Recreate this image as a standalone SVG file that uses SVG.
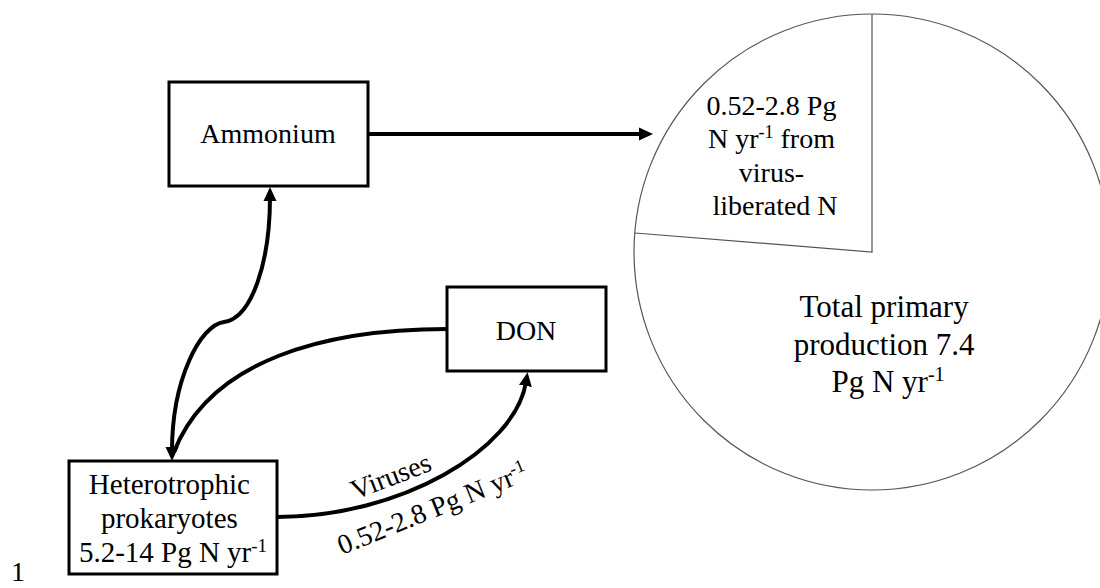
<svg xmlns="http://www.w3.org/2000/svg" width="1100" height="588" viewBox="0 0 1100 588">
  <style>
    .box { fill: #fff; stroke: #000; stroke-width: 3; }
    .conn { fill: none; stroke: #000; stroke-width: 4; }
    .pie { fill: #fff; stroke: #555; stroke-width: 1.2; }
    .t { font-family: "Liberation Serif", "Times New Roman", serif; fill: #000; }
  </style>
  <defs>
    <marker id="ah" markerUnits="userSpaceOnUse" markerWidth="16" markerHeight="14" refX="4" refY="6.5" orient="auto-start-reverse" viewBox="0 0 16 13">
      <path d="M0,0 L14,6.5 L0,13 z" fill="#000"/>
    </marker>
  </defs>
  <rect width="1100" height="588" fill="#fff"/>

  <g id="pie">
    <circle class="pie" cx="872" cy="252" r="238"/>
    <path class="pie" d="M872 14 L872 252 L635 233" fill="none"/>
    <text class="t" font-size="28" text-anchor="middle">
      <tspan x="775" y="115">0.52-2.8 Pg</tspan>
      <tspan x="775" y="148">N yr<tspan font-size="18" dy="-10">-1</tspan><tspan dy="10"> from</tspan></tspan>
      <tspan x="775" y="182">virus-</tspan>
      <tspan x="775" y="215">liberated N</tspan>
    </text>
    <text class="t" font-size="31" text-anchor="middle">
      <tspan x="888" y="317">Total primary</tspan>
      <tspan x="888" y="355">production 7.4</tspan>
      <tspan x="888" y="392">Pg N yr<tspan font-size="20" dy="-11">-1</tspan></tspan>
    </text>
  </g>

  <g id="ammonium">
    <rect class="box" x="169" y="82" width="199" height="104"/>
    <text class="t" font-size="28" x="268" y="143" text-anchor="middle">Ammonium</text>
  </g>

  <g id="don">
    <rect class="box" x="447" y="287" width="159" height="84"/>
    <text class="t" font-size="28" x="526" y="340" text-anchor="middle">DON</text>
  </g>

  <g id="heterotrophic">
    <rect class="box" x="69" y="461" width="208" height="113"/>
    <text class="t" font-size="29" text-anchor="middle">
      <tspan x="173" y="494">Heterotrophic</tspan>
      <tspan x="173" y="528">prokaryotes</tspan>
      <tspan x="173" y="562">5.2-14 Pg N yr<tspan font-size="19" dy="-10">-1</tspan></tspan>
    </text>
  </g>

  <g id="connectors">
    <path class="conn" d="M368 134 L643 134" marker-end="url(#ah)"/>
    <path class="conn" d="M270 197 C270 262, 252 318, 224 322 C200 325, 172 380, 172 451" marker-start="url(#ah)" marker-end="url(#ah)"/>
    <path class="conn" d="M447 329 C325 329, 210 360, 174 452"/>
    <path class="conn" d="M277 517 C400 517, 515 450, 526 382" marker-end="url(#ah)"/>
    <text class="t" font-size="28" transform="translate(355 500) rotate(-21)">Viruses</text>
    <text class="t" font-size="28" transform="translate(342 555) rotate(-22)">0.52-2.8 Pg N yr<tspan font-size="18" dy="-10">-1</tspan></text>
  </g>

  <text class="t" font-size="28" x="11" y="581">1</text>
</svg>
